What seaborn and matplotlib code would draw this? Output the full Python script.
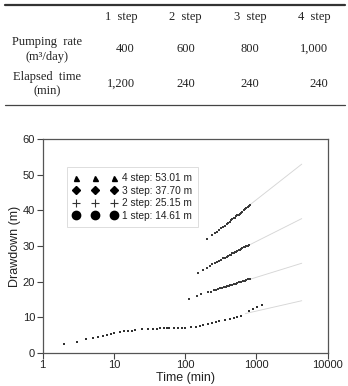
import matplotlib
matplotlib.use("Agg")
import matplotlib.pyplot as plt
from matplotlib.lines import Line2D
import seaborn as sns
import pandas as pd

# ---------------- data ----------------
table_cols = ["1  step", "2  step", "3  step", "4  step"]
pumping_rate = ["400", "600", "800", "1,000"]
elapsed_time = ["1,200", "240", "240", "240"]

step1_time = [2, 3, 4, 5, 6, 7, 8, 9, 10, 12, 14, 16, 18, 20, 25, 30, 35, 40, 45, 50,
              55, 60, 70, 80, 90, 100, 120, 140, 160, 180, 210, 240, 270, 300, 360,
              420, 480, 540, 600, 780, 900, 1020, 1200]
step1_dd = [2.45, 3.0, 3.76, 4.13, 4.5, 4.78, 5.06, 5.34, 5.53, 5.82, 6.0, 6.1, 6.2,
            6.38, 6.57, 6.66, 6.75, 6.8, 6.85, 6.9, 6.9, 6.95, 6.95, 7.0, 7.0, 7.03,
            7.1, 7.3, 7.4, 7.78, 8.07, 8.35, 8.6, 8.9, 9.2, 9.5, 9.8, 9.95, 10.4,
            11.8, 12.4, 12.9, 13.5]

step2_time = [113, 145, 166, 211, 230, 250, 270, 290, 310, 330, 350, 370, 390, 410,
              430, 450, 480, 510, 540, 570, 600, 640, 680, 720, 760, 800]
step2_dd = [15.2, 16.0, 16.4, 17.1, 17.2, 17.5, 17.7, 17.8, 18.1, 18.2, 18.4, 18.6,
            18.7, 18.8, 19.0, 19.1, 19.3, 19.4, 19.6, 19.8, 19.9, 20.1, 20.2, 20.5,
            20.6, 20.7]

step3_time = [150, 176, 200, 220, 240, 260, 280, 300, 320, 340, 360, 380, 400, 420,
              440, 460, 480, 500, 520, 540, 560, 580, 600, 630, 660, 690, 720, 750, 780]
step3_dd = [22.5, 23.2, 23.9, 24.3, 24.8, 25.1, 25.5, 25.9, 26.1, 26.5, 26.7, 27.0,
            27.2, 27.4, 27.6, 27.9, 28.1, 28.2, 28.4, 28.6, 28.8, 28.9, 29.1, 29.4,
            29.6, 29.8, 30.0, 30.1, 30.3]

step4_time = [200, 240, 260, 280, 300, 320, 340, 360, 380, 400, 420, 440, 460, 480,
              500, 520, 540, 560, 580, 600, 630, 660, 690, 720, 750, 780, 810]
step4_dd = [31.9, 33.0, 33.6, 34.0, 34.6, 35.0, 35.4, 35.7, 36.2, 36.5, 36.8, 37.2,
            37.5, 37.8, 38.0, 38.4, 38.6, 38.8, 39.1, 39.4, 39.7, 40.0, 40.4, 40.7,
            40.9, 41.2, 41.5]

# fitted straight-line extrapolations (start and end of each light line)
fit_t0 = [700, 800, 760, 800]
fit_s0 = [11.0, 20.6, 30.1, 41.5]
fit_t1 = [4320, 4320, 4320, 4320]
fit_s1 = [14.61, 25.15, 37.70, 53.01]

legend_labels = ["4 step: 53.01 m", "3 step: 37.70 m", "2 step: 25.15 m", "1 step: 14.61 m"]

x_ticks = [1, 10, 100, 1000, 10000]
y_ticks = [0, 10, 20, 30, 40, 50, 60]

# ---------------- figure ----------------
sns.set_theme(style="white")
plt.rcParams["font.family"] = ["Liberation Sans", "DejaVu Sans"]

W, H = 348, 386
fig = plt.figure(figsize=(W / 100, H / 100), dpi=100)

def fx(px):
    return px / W

def fy(py):
    return 1 - py / H

# ---- table ----
serif = ["Liberation Serif", "DejaVu Serif"]
tcol = "#222222"
tfs = 9
fig.add_artist(Line2D([fx(5), fx(345)], [fy(4.5), fy(4.5)], color="#333333", lw=1.6))
fig.add_artist(Line2D([fx(5), fx(345)], [fy(105), fy(105)], color="#444444", lw=0.9))

header_x = [121.5, 185, 250, 314]
value_right = [135, 195, 259, 328]
for xc, lab in zip(header_x, table_cols):
    fig.text(fx(xc), fy(16.7), lab, ha="center", va="center", fontsize=tfs,
             family=serif, color=tcol)
fig.text(fx(47), fy(41.7), "Pumping  rate", ha="center", va="center", fontsize=tfs,
         family=serif, color=tcol)
fig.text(fx(47), fy(57), "(m³/day)", ha="center", va="center", fontsize=tfs,
         family=serif, color=tcol)
fig.text(fx(47), fy(76.7), "Elapsed  time", ha="center", va="center", fontsize=tfs,
         family=serif, color=tcol)
fig.text(fx(47), fy(91.7), "(min)", ha="center", va="center", fontsize=tfs,
         family=serif, color=tcol)
for xr, v in zip(value_right, pumping_rate):
    fig.text(fx(xr), fy(49), v, ha="right", va="center", fontsize=tfs,
             family=serif, color=tcol)
for xr, v in zip(value_right, elapsed_time):
    fig.text(fx(xr), fy(84), v, ha="right", va="center", fontsize=tfs,
             family=serif, color=tcol)

# ---- chart ----
left, right, top, bottom = 42.7, 327.7, 139.3, 352.7
ax = fig.add_axes([fx(left), fy(bottom), (right - left) / W, (bottom - top) / H])

line_col = "#d6d6d6"
for t0, s0, t1, s1 in zip(fit_t0, fit_s0, fit_t1, fit_s1):
    df_line = pd.DataFrame({"t": [t0, t1], "s": [s0, s1]})
    sns.lineplot(data=df_line, x="t", y="s", ax=ax, color=line_col, lw=0.65,
                 legend=False, zorder=1)

pt_col = "#303030"
df1 = pd.DataFrame({"t": step1_time, "s": step1_dd})
sns.scatterplot(data=df1, x="t", y="s", ax=ax, marker="s", s=3.5, color=pt_col,
                linewidth=0, legend=False, zorder=3)
for tt, ss in [(step2_time, step2_dd), (step3_time, step3_dd), (step4_time, step4_dd)]:
    d = pd.DataFrame({"t": tt, "s": ss})
    sns.scatterplot(data=d, x="t", y="s", ax=ax, marker="s", s=1.8, color="#3a3a3a",
                    linewidth=0, legend=False, zorder=3)

ax.set_xscale("log")
ax.set_xlim(1, 10000)
ax.set_ylim(0, 60)
ax.set_xticks(x_ticks)
ax.set_xticklabels([str(v) for v in x_ticks])
ax.set_yticks(y_ticks)
ax.set_yticklabels([str(v) for v in y_ticks])
ax.minorticks_off()
ax.tick_params(axis="both", which="major", direction="out", length=4, width=0.8,
               color="#444444", labelsize=8, labelcolor="#222222", pad=1.5,
               bottom=True, left=True, top=False, right=False)
for sp in ax.spines.values():
    sp.set_color("#555555")
    sp.set_linewidth(0.9)
ax.set_xlabel("Time (min)", fontsize=9, color="#222222", labelpad=1)
ax.set_ylabel("Drawdown (m)", fontsize=9, color="#222222", labelpad=1)

handles = [
    Line2D([], [], ls="", marker="^", markersize=3.6, color="black"),
    Line2D([], [], ls="", marker="D", markersize=4.0, color="black"),
    Line2D([], [], ls="", marker="+", markersize=6, color="#333333", markeredgewidth=0.8),
    Line2D([], [], ls="", marker="o", markersize=6, color="black"),
]
leg = ax.legend(handles, legend_labels, loc="upper left",
                bbox_to_anchor=((67 - left) / (right - left), (bottom - 167) / (bottom - top)),
                borderaxespad=0, numpoints=3, fontsize=7.3, handlelength=4.3,
                handletextpad=0.5, labelspacing=0.25, borderpad=0.6,
                frameon=True, fancybox=False, edgecolor="#dddddd", framealpha=1)
leg.get_frame().set_linewidth(0.7)
for t in leg.get_texts():
    t.set_color("#222222")

fig.savefig("out.png", dpi=100)
